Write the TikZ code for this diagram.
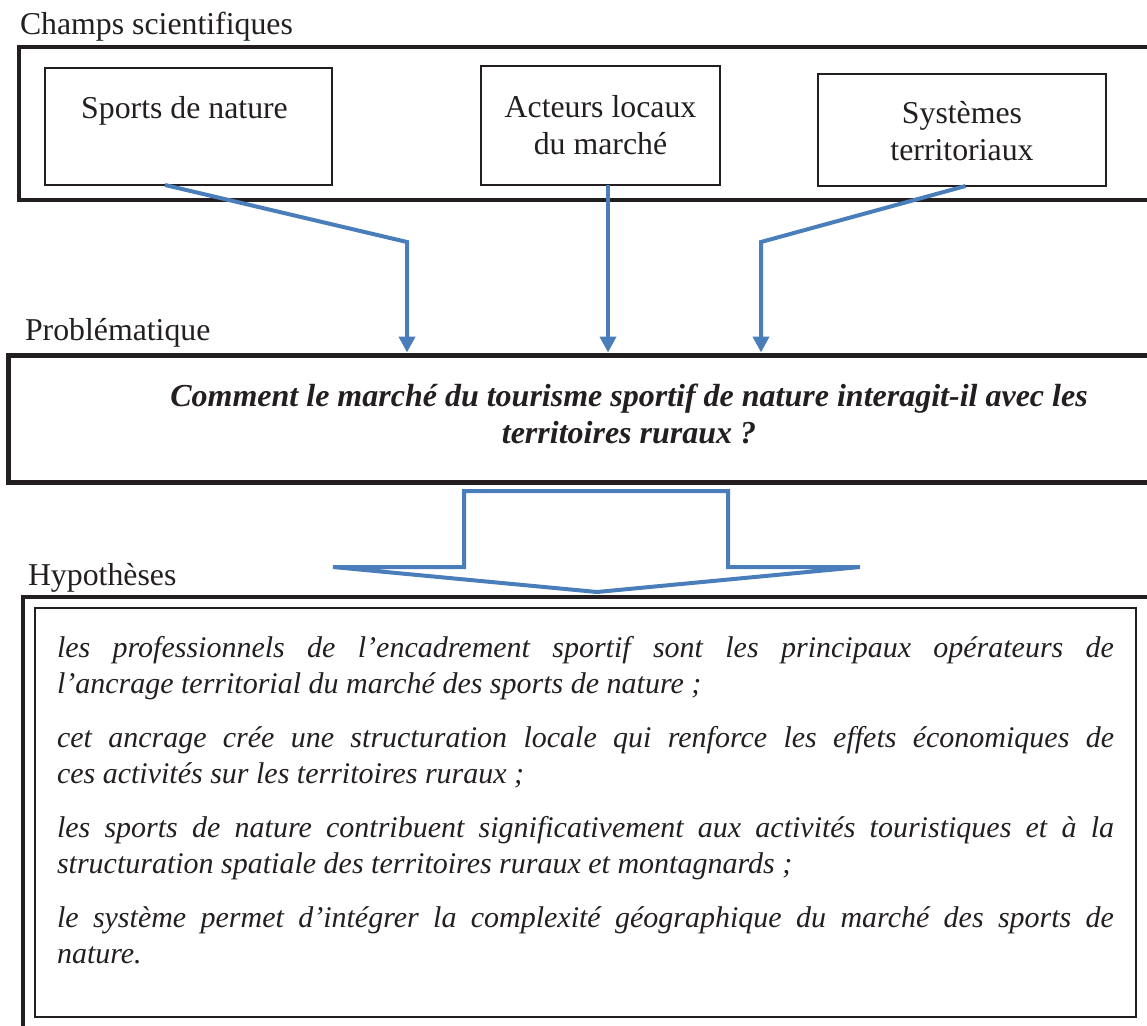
\documentclass[tikz,border=0pt]{standalone}
\usepackage{fontspec}
\setmainfont{Liberation Serif}
\usetikzlibrary{arrows.meta,positioning}
\definecolor{ink}{RGB}{35,31,32}
\definecolor{flowblue}{RGB}{74,126,187}

\begin{document}
\begin{tikzpicture}[x=1pt, y=-1pt,
    every node/.style={
        inner sep=0pt,
        outer sep=0pt,
        text=ink
    },
    heading/.style={anchor=base west, font=\fontsize{31.8}{37}\selectfont},
    frame/.style={draw=ink, line width=4pt, anchor=north west},
    field/.style={draw=ink, line width=1.5pt, anchor=north west, align=center,
        font=\fontsize{31.8}{37}\selectfont},
    flow/.style={draw=flowblue, line width=4pt,
        -{Triangle[width=16pt,length=16pt]}, shorten >=2.5pt},
    bigarrow/.style={draw=flowblue, line width=4pt}
]
    \useasboundingbox (0,0) rectangle (1147,1025);
    \clip (0,0) rectangle (1147,1025);

    % champs scientifiques
    \node (champslabel) [heading] at (20,35)
    {
        Champs scientifiques
    };
    \node (champs) [frame, minimum width=1200pt, minimum height=152.5pt] at (19,47) {};
    \node (sports) [field, minimum width=287pt, text height=50pt, text depth=67pt] at (45,68)
    {
        Sports de nature
    };
    \node (acteurs) [field, minimum width=239pt, text height=88pt, text depth=31pt] at (481,66)
    {
        Acteurs locaux\\du marché
    };
    \node (systemes) [field, minimum width=288pt, text height=86pt, text depth=26pt] at (818,74)
    {
        Systèmes\\territoriaux
    };

    % problematique
    \node (problabel) [heading] at (25,340)
    {
        Problématique
    };
    \node (prob) [frame, line width=5pt, minimum width=1241pt, text height=88pt, text depth=39pt,
        align=center, font=\bfseries\itshape\fontsize{32}{37}\selectfont] at (8.5,355)
    {
        Comment le marché du tourisme sportif de nature interagit-il avec les\\territoires ruraux~?
    };

    \coordinate (bendL) at (407,242);
    \coordinate (bendR) at (761,242);
    \coordinate (midout) at ([xshift=7.5pt]acteurs.south);
    \draw[flow] ([xshift=-23.5pt]sports.south) -- (bendL) -- (bendL |- prob.north);
    \draw[flow] (midout) -- (midout |- prob.north);
    \draw[flow] ([xshift=3.5pt]systemes.south) -- (bendR) -- (bendR |- prob.north);

    \draw[bigarrow] (333,567) -- (464,567) -- (464,491) -- (728,491) -- (728,567)
        -- (860,567) -- (597,592) -- cycle;

    % hypotheses
    \node (hypolabel) [heading] at (28,585)
    {
        Hypothèses
    };
    \node (hypo) [frame, minimum width=1200pt, minimum height=500pt] at (23,597) {};
    \node (hypotext) [draw=ink, line width=1.5pt, anchor=north west, text width=1057pt,
        inner xsep=22pt, text height=49pt, text depth=360pt, align=justify,
        font=\itshape\fontsize{30}{36}\selectfont] at (35,608)
    {
        \setlength{\parskip}{18pt}\tolerance=9999
        les professionnels de l’encadrement sportif sont les principaux opérateurs de\linebreak
        l’ancrage territorial du marché des sports de nature~;\par
        cet ancrage crée une structuration locale qui renforce les effets économiques de\linebreak
        ces activités sur les territoires ruraux~;\par
        les sports de nature contribuent significativement aux activités touristiques et à la\linebreak
        structuration spatiale des territoires ruraux et montagnards~;\par
        le système permet d’intégrer la complexité géographique du marché des sports de\linebreak
        nature.
    };
\end{tikzpicture}
\end{document}
